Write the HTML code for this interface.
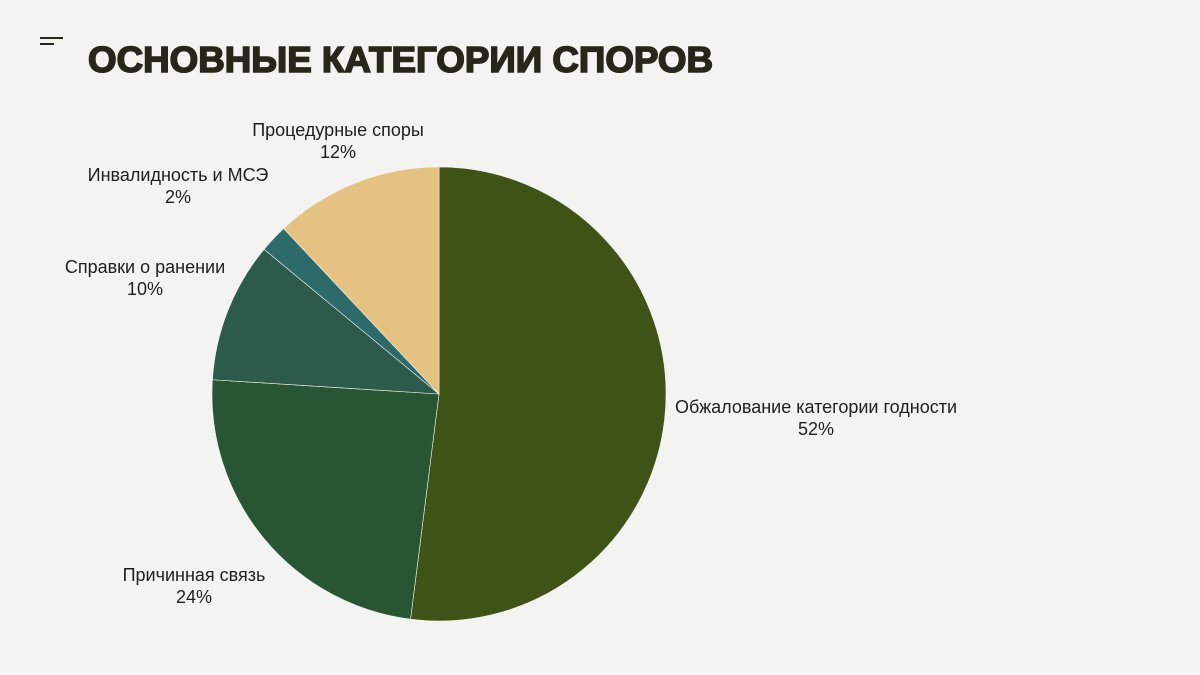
<!DOCTYPE html>
<html><head><meta charset="utf-8">
<style>
html,body{margin:0;padding:0;background:#f3f3f1;}
svg{display:block;font-family:"Liberation Sans","DejaVu Sans",sans-serif;}
</style></head>
<body>
<svg id="chart" width="1200" height="675" viewBox="0 0 1200 675">
<rect width="1200" height="675" fill="#f3f3f1"/>
<g>
<rect x="40" y="37" width="23" height="2" fill="#26261a"/>
<rect x="40" y="43" width="14" height="2" fill="#26261a"/>
</g>
<text x="88" y="72" font-size="36" font-weight="bold" fill="#26261a" stroke="#26261a" stroke-width="1.6" textLength="625" lengthAdjust="spacingAndGlyphs">ОСНОВНЫЕ КАТЕГОРИИ СПОРОВ</text>
<g id="slices"></g>
<g id="labels"></g>
</svg>
<script>
const categories=["Обжалование категории годности","Причинная связь","Справки о ранении","Инвалидность и МСЭ","Процедурные споры"];
const values=[52,24,10,2,12];
const colors=["#3f5316","#285635","#2c5a4b","#2c6b6a","#e5c281"];
const labelPos=[[816,413],[194,581],[145,273],[178,181],[338,136]];
const cx=439,cy=394,r=227;
const ns="http://www.w3.org/2000/svg";
const total=values.reduce((a,b)=>a+b,0);
const sg=document.getElementById('slices'),lg=document.getElementById('labels');
let a0=0;
values.forEach((v,i)=>{
  const a1=a0+v/total*2*Math.PI;
  const x0=cx+r*Math.sin(a0),y0=cy-r*Math.cos(a0),x1=cx+r*Math.sin(a1),y1=cy-r*Math.cos(a1);
  const p=document.createElementNS(ns,'path');
  p.setAttribute('d',`M${cx},${cy}L${x0},${y0}A${r},${r} 0 ${a1-a0>Math.PI?1:0} 1 ${x1},${y1}Z`);
  p.setAttribute('fill',colors[i]);
  p.setAttribute('stroke','#f3f3f1');p.setAttribute('stroke-width','0.6');
  
  
  sg.appendChild(p);
  const t=document.createElementNS(ns,'text');
  t.setAttribute('x',labelPos[i][0]);t.setAttribute('y',labelPos[i][1]);
  t.setAttribute('text-anchor','middle');t.setAttribute('font-size','18');t.setAttribute('fill','#1e1e1e');
  
  
  const s1=document.createElementNS(ns,'tspan');s1.setAttribute('x',labelPos[i][0]);s1.textContent=categories[i];
  const s2=document.createElementNS(ns,'tspan');s2.setAttribute('x',labelPos[i][0]);s2.setAttribute('dy','22');s2.textContent=v+'%';
  t.appendChild(s1);t.appendChild(s2);lg.appendChild(t);
  a0=a1;
});
</script>
</body></html>
